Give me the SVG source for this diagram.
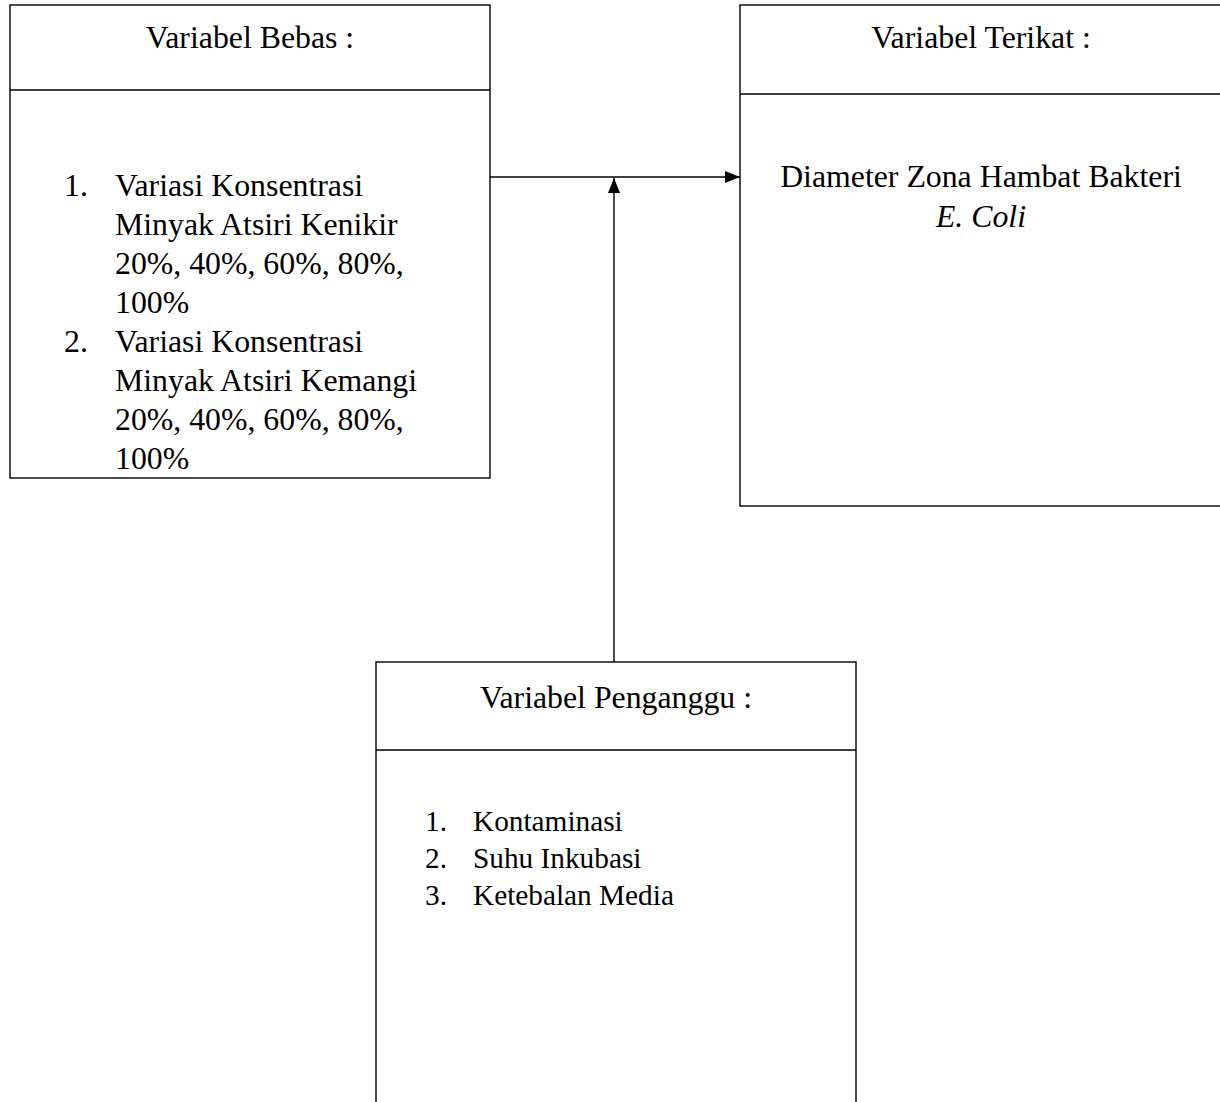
<svg xmlns="http://www.w3.org/2000/svg" width="1220" height="1102" viewBox="0 0 1220 1102">
<style>
.box{fill:#fff;stroke:#000;stroke-width:1.4}
.div{stroke:#000;stroke-width:1.4}
.t{font-family:"Liberation Serif","Times New Roman",serif;font-size:31.8px;fill:#000}
.s{font-family:"Liberation Serif","Times New Roman",serif;font-size:29.3px;fill:#000}
.c{text-anchor:middle}
.conn{stroke:#000;stroke-width:1.4;fill:none}
</style>
<defs>
<marker id="arr" viewBox="0 0 15 12" refX="15" refY="6" markerWidth="15" markerHeight="12" markerUnits="userSpaceOnUse" orient="auto">
<path d="M0,0 L15,6 L0,12 Z" fill="#000"/>
</marker>
</defs>
<rect width="1220" height="1102" fill="#fff"/>
<g id="bebas">
<rect class="box" x="10" y="5" width="480" height="473"/>
<line class="div" x1="10" y1="90" x2="490" y2="90"/>
<text class="t c" x="250" y="48">Variabel Bebas :</text>
<text class="t" x="64" y="196">1.</text>
<text class="t" x="115" y="196">Variasi Konsentrasi</text>
<text class="t" x="115" y="235">Minyak Atsiri Kenikir</text>
<text class="t" x="115" y="274">20%, 40%, 60%, 80%,</text>
<text class="t" x="115" y="313">100%</text>
<text class="t" x="64" y="352">2.</text>
<text class="t" x="115" y="352">Variasi Konsentrasi</text>
<text class="t" x="115" y="391">Minyak Atsiri Kemangi</text>
<text class="t" x="115" y="430">20%, 40%, 60%, 80%,</text>
<text class="t" x="115" y="469">100%</text>
</g>
<g id="terikat">
<rect class="box" x="740" y="5" width="482" height="501"/>
<line class="div" x1="740" y1="94" x2="1222" y2="94"/>
<text class="t c" x="981" y="48">Variabel Terikat :</text>
<text class="t c" x="981" y="187">Diameter Zona Hambat Bakteri</text>
<text class="t c" x="981" y="227" font-style="italic">E. Coli</text>
</g>
<g id="pengganggu">
<rect class="box" x="376" y="662" width="480" height="460"/>
<line class="div" x1="376" y1="750" x2="856" y2="750"/>
<text class="t c" x="616" y="708">Variabel Penganggu :</text>
<text class="s" x="425" y="831">1.</text>
<text class="s" x="473" y="831">Kontaminasi</text>
<text class="s" x="425" y="868">2.</text>
<text class="s" x="473" y="868">Suhu Inkubasi</text>
<text class="s" x="425" y="905">3.</text>
<text class="s" x="473" y="905">Ketebalan Media</text>
</g>
<g id="connectors">
<line class="conn" x1="490" y1="177" x2="740" y2="177" marker-end="url(#arr)"/>
<line class="conn" x1="614" y1="662" x2="614" y2="178" marker-end="url(#arr)"/>
</g>
</svg>
